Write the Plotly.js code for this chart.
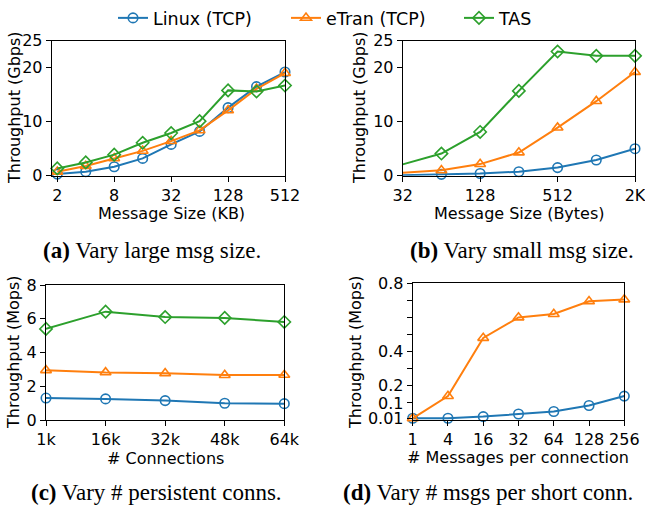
<!DOCTYPE html>
<html><head><meta charset="utf-8">
<script src="https://cdn.plot.ly/plotly-3.0.1.min.js"></script>
<style>html,body{margin:0;padding:0;background:#fff;overflow:hidden}#chart{width:645px;height:507px}</style>
</head><body><div id="chart"></div>
<script>
// ---- data ----
const seriesNames = ['Linux (TCP)', 'eTran (TCP)', 'TAS'];
// (a) large message size (KB) -> Gbps
const sizesKB = [2, 4, 8, 16, 32, 64, 128, 256, 512];
const aLinux = [0.3, 0.74, 1.66, 3.2, 5.8, 8.2, 12.6, 16.5, 19.2];
const aETran = [0.74, 1.8, 3.2, 4.6, 6.4, 8.4, 12.1, 16.1, 19.0];
const aTAS   = [1.35, 2.46, 3.9, 6.1, 7.9, 10.1, 15.8, 15.6, 16.7];
const aTickVals = [2, 8, 32, 128, 512];
// (b) small message size (Bytes) -> Gbps
const sizesB = [32, 64, 128, 256, 512, 1024, 2048];
const bLinux = [0.1, 0.25, 0.4, 0.74, 1.5, 2.9, 5.0];
const bETran = [0.55, 1.0, 2.15, 4.3, 8.9, 13.8, 19.2];
const bTAS   = [2.1, 4.1, 8.1, 15.7, 23.0, 22.2, 22.2];
const bTickVals = [32, 128, 512, 2048];
const bTickText = ['32', '128', '512', '2K'];
// (c) persistent connections -> Mops
const conns = ['1k', '16k', '32k', '48k', '64k'];
const cLinux = [1.30, 1.25, 1.15, 0.99, 0.97];
const cETran = [2.95, 2.82, 2.77, 2.66, 2.67];
const cTAS   = [5.4, 6.42, 6.1, 6.05, 5.81];
// (d) messages per short connection -> Mops
const msgs = ['1', '4', '16', '32', '64', '128', '256'];
const dLinux = [0.01, 0.01, 0.02, 0.035, 0.05, 0.085, 0.14];
const dETran = [0.01, 0.14, 0.48, 0.60, 0.62, 0.695, 0.705];
const dTickVals = [0.01, 0.1, 0.2, 0.3, 0.4, 0.5, 0.6, 0.7, 0.8];
const dTickText = ['0.01', '0.1', '0.2', '', '0.4', '', '', '', '0.8'];
const xTitles = ['Message Size (KB)', 'Message Size (Bytes)', '# Connections', '# Messages per connection'];
const yTitles = ['Throughput (Gbps)', 'Throughput (Gbps)', 'Throughput (Mops)', 'Throughput (Mops)'];
const captions = ['<b>(a)</b> Vary large msg size.', '<b>(b)</b> Vary small msg size.',
                  '<b>(c)</b> Vary # persistent conns.', '<b>(d)</b> Vary # msgs per short conn.'];

// ---- styles ----
const W = 645, H = 507;
const colors = ['#1f77b4', '#ff7f0e', '#2ca02c'];
const symbols = ['circle-open', 'triangle-up-open', 'diamond-open'];
const FONT = 'DejaVu Sans, sans-serif';
const SERIF = 'Liberation Serif, Times New Roman, serif';
function dx(a, b) { return [a / W, b / W]; }
function dy(top, bot) { return [1 - bot / H, 1 - top / H]; }

function tr(x, y, i, xa, ya, show) {
  return {
    x: x, y: y, xaxis: xa, yaxis: ya, type: 'scatter', mode: 'lines+markers',
    name: seriesNames[i], legendgroup: seriesNames[i], showlegend: show, cliponaxis: false,
    line: { color: colors[i], width: 2 },
    marker: { symbol: symbols[i], size: 9.5, color: colors[i], line: { width: 1.6, color: colors[i] } }
  };
}
const data = [
  tr(sizesKB, aLinux, 0, 'x', 'y', true),
  tr(sizesKB, aETran, 1, 'x', 'y', true),
  tr(sizesKB, aTAS, 2, 'x', 'y', true),
  tr(sizesB, bLinux, 0, 'x2', 'y2', false),
  tr(sizesB, bETran, 1, 'x2', 'y2', false),
  tr(sizesB, bTAS, 2, 'x2', 'y2', false),
  tr(conns, cLinux, 0, 'x3', 'y3', false),
  tr(conns, cETran, 1, 'x3', 'y3', false),
  tr(conns, cTAS, 2, 'x3', 'y3', false),
  tr(msgs, dLinux, 0, 'x4', 'y4', false),
  tr(msgs, dETran, 1, 'x4', 'y4', false)
];

function ax(extra) {
  return Object.assign({
    showline: true, linecolor: '#000', linewidth: 1, mirror: true,
    ticks: 'outside', ticklen: 5, tickwidth: 1, tickcolor: '#000',
    showgrid: false, zeroline: false, automargin: false, ticklabeloverflow: 'allow',
    tickfont: { family: FONT, size: 16, color: '#000' }
  }, extra);
}

const L = Math.log10;
const aPad = 0.196 * L(2);
const layout = {
  width: W, height: H, margin: { l: 0, r: 0, t: 0, b: 0 },
  paper_bgcolor: '#fff', plot_bgcolor: '#fff',
  font: { family: FONT, size: 16, color: '#000' },
  showlegend: true,
  legend: { orientation: 'h', x: 113 / W, xanchor: 'left', y: 1.0, yanchor: 'top',
            entrywidth: 128, font: { family: FONT, size: 17.5, color: '#000' }, bgcolor: 'rgba(0,0,0,0)' },
  xaxis: ax({ domain: dx(51.7, 285), anchor: 'y', type: 'log', range: [L(2) - aPad, L(512)],
              tickmode: 'array', tickvals: aTickVals, ticktext: aTickVals.map(String) }),
  yaxis: ax({ domain: dy(40.7, 175.7), anchor: 'x', range: [0, 25], tickvals: [0, 10, 20, 25] }),
  xaxis2: ax({ domain: dx(402.7, 635), anchor: 'y2', type: 'log', range: [L(32), L(2048)],
               tickmode: 'array', tickvals: bTickVals, ticktext: bTickText }),
  yaxis2: ax({ domain: dy(40.7, 175.7), anchor: 'x2', range: [0, 25], tickvals: [0, 10, 20, 25] }),
  xaxis3: ax({ domain: dx(46, 284.3), anchor: 'y3', type: 'category', range: [0, conns.length - 1] }),
  yaxis3: ax({ domain: dy(285, 420), anchor: 'x3', range: [0, 8], tickvals: [0, 2, 4, 6, 8] }),
  xaxis4: ax({ domain: dx(412.7, 624.3), anchor: 'y4', type: 'category', range: [0, msgs.length - 1] }),
  yaxis4: ax({ domain: dy(283.3, 420), anchor: 'x4', range: [0, 0.8], tickmode: 'array',
               tickvals: dTickVals, ticktext: dTickText }),
  annotations: []
};
const base = { xref: 'paper', yref: 'paper', xanchor: 'center', yanchor: 'middle', showarrow: false };
const xTitlePos = [[171, 214], [519, 214], [165, 458.5], [518, 457.5]];
const yTitlePos = [[15, 108], [360, 108], [13, 352], [355, 352]];
const capPos = [[152, 250], [522, 250], [156, 492], [488, 492]];
for (let i = 0; i < 4; i++) {
  layout.annotations.push(Object.assign({}, base, { text: xTitles[i], x: xTitlePos[i][0] / W, y: 1 - xTitlePos[i][1] / H,
    font: { family: FONT, size: 16, color: '#000' } }));
  layout.annotations.push(Object.assign({}, base, { text: yTitles[i], textangle: -90, x: yTitlePos[i][0] / W, y: 1 - yTitlePos[i][1] / H,
    font: { family: FONT, size: 16, color: '#000' } }));
  layout.annotations.push(Object.assign({}, base, { text: captions[i], x: capPos[i][0] / W, y: 1 - capPos[i][1] / H,
    font: { family: SERIF, size: 23, color: '#000' } }));
}
Plotly.newPlot('chart', data, layout, { staticPlot: true, displayModeBar: false });
</script></body></html>
